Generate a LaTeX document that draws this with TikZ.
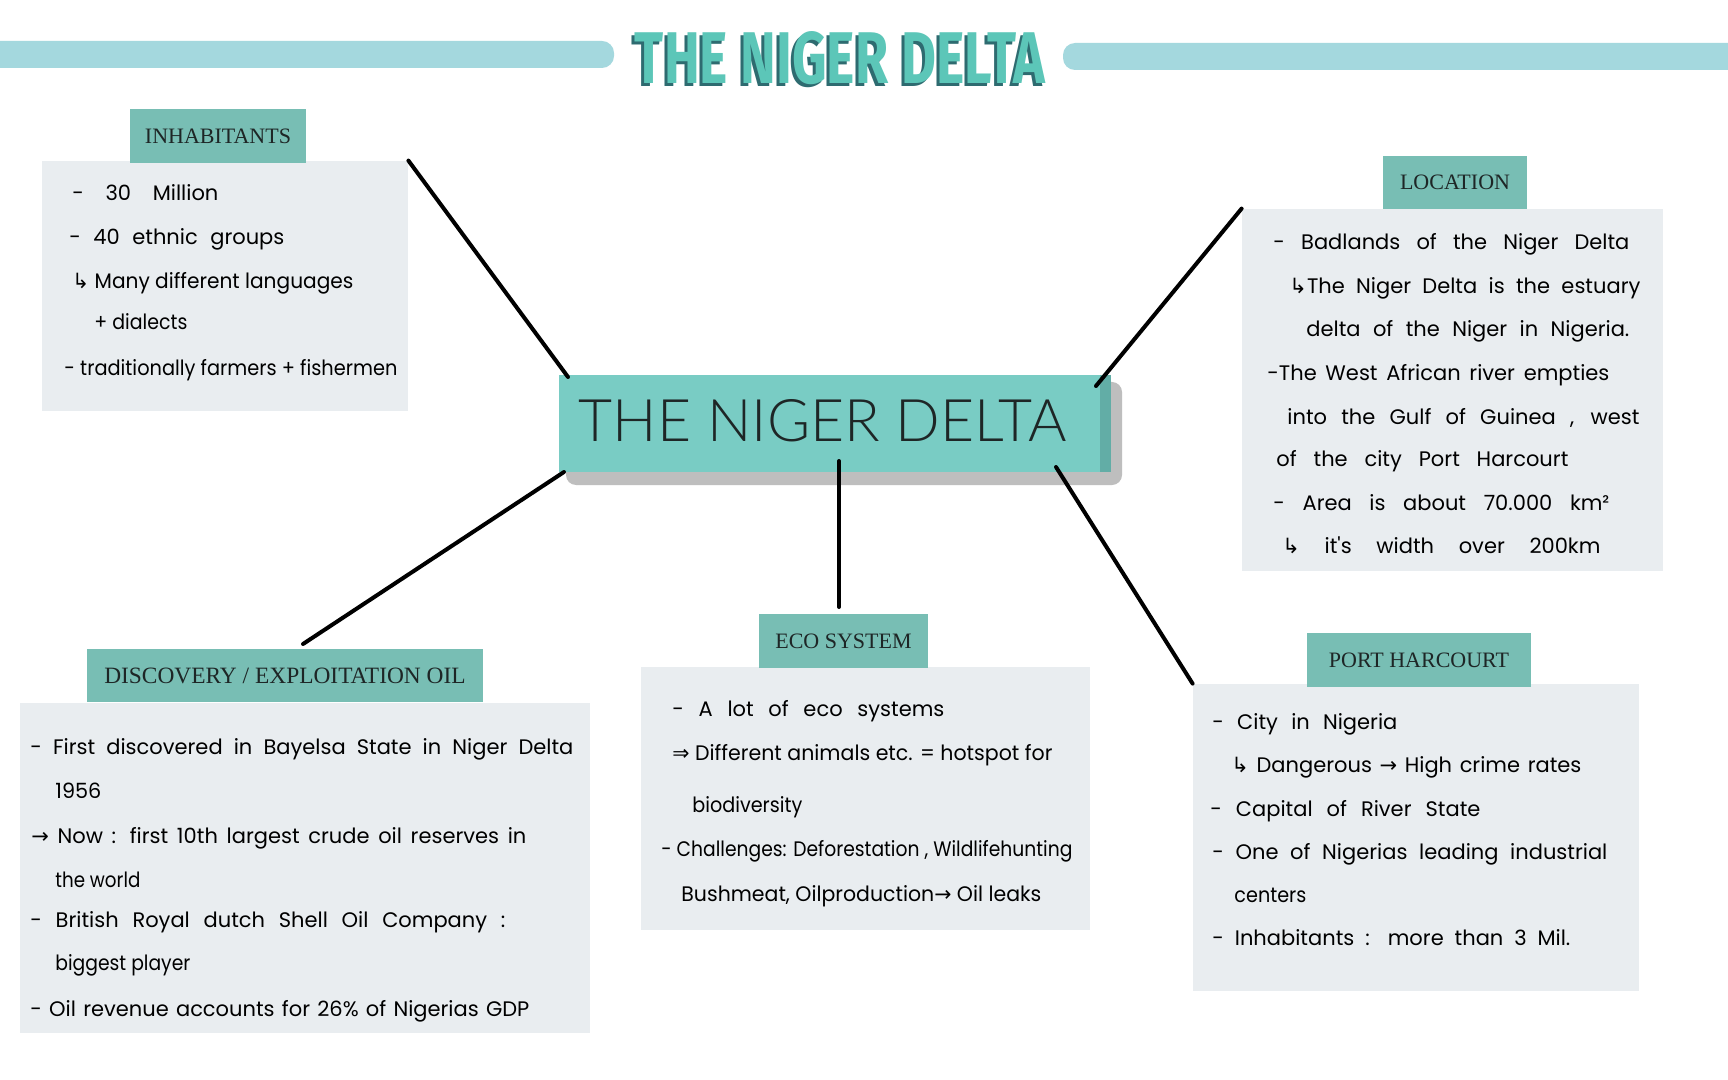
\documentclass[tikz,border=0pt]{standalone}
\usepackage{fontspec}
\usepackage{graphicx}
\setmainfont{Liberation Serif}
\newfontfamily\handfont{Poppins}
\newfontfamily\symfont{DejaVu Sans}
\newfontfamily\titlefont{Fira Sans}
\newfontfamily\centerfont{Lato Light}
\definecolor{barblue}{HTML}{A4D8DE}
\definecolor{titleteal}{HTML}{5CC6B8}
\definecolor{titledark}{HTML}{2E6B70}
\definecolor{headteal}{HTML}{78BEB4}
\definecolor{bodygray}{HTML}{E9EDF0}
\definecolor{centralteal}{HTML}{79CCC4}
\definecolor{centraledge}{HTML}{62ADA6}
\definecolor{shadowgray}{HTML}{BEBEBE}
\definecolor{inkdark}{HTML}{1E2626}
\newsavebox\fitbox
\newdimen\fitw
\newcommand\fitline[2]{\fitw=#1pt\divide\fitw by 2\relax
  \sbox\fitbox{#2}%
  \ifdim\wd\fitbox<\fitw\relax\makebox[\fitw][s]{#2}%
  \else\edef\fitscale{\fpeval{(\the\fitw)/(\the\wd\fitbox)}}\scalebox{\fitscale}[1]{\usebox\fitbox}\fi}
\newcommand\hookmark{{\symfont ↳}}
\newcommand\rarr{{\symfont →}}
\newcommand\dblarr{{\symfont ⇒}}
\begin{document}
\begin{tikzpicture}[x=0.5pt,y=-0.5pt,
  bar/.style={fill=barblue,draw=none},
  headbox/.style={fill=headteal,draw=none,inner sep=0,text=inkdark,font=\fontsize{11}{13}\selectfont},
  bodybox/.style={fill=bodygray,draw=none,inner sep=0},
  txt/.style={anchor=base west,inner sep=0,text=black,font=\handfont\fontsize{10.5}{12}\selectfont},
  link/.style={draw=black,line width=2pt,line cap=round}]
\useasboundingbox[fill=white] (0,0) rectangle (1728,1080);
% top bars
\fill[bar,rounded corners=6pt] (-20,41) rectangle (614,68);
\fill[bar,rounded corners=6pt] (1063,43) rectangle (1748,70);
% title
\node[anchor=base,inner sep=0,text=titledark] (titleshadow) at (837,87) {\titlefont\bfseries\resizebox{205pt}{26pt}{THE NIGER DELTA}};
\node[anchor=base,inner sep=0,text=titleteal] (title) at (840,84) {\titlefont\bfseries\resizebox{205pt}{26pt}{THE NIGER DELTA}};
% bodies
\node[bodybox,minimum width=183pt,minimum height=125pt] (IB) at (225,286) {};
\node[bodybox,minimum width=210.5pt,minimum height=181pt] (LB) at (1452.5,390) {};
\node[bodybox,minimum width=285pt,minimum height=165pt] (DB) at (305,868) {};
\node[bodybox,minimum width=224.5pt,minimum height=131.5pt] (EB) at (865.5,798.5) {};
\node[bodybox,minimum width=223pt,minimum height=153.5pt] (PB) at (1416,837.5) {};
% headers
\node[headbox,minimum width=88pt,minimum height=27pt] (IH) at (218,136) {INHABITANTS};
\node[headbox,minimum width=72pt,minimum height=26.5pt] (LH) at (1455,182.5) {LOCATION};
\node[headbox,minimum width=198pt,minimum height=26.5pt,font=\fontsize{11.7}{13}\selectfont] (DH) at (285,675.5) {DISCOVERY / EXPLOITATION OIL};
\node[headbox,minimum width=84.5pt,minimum height=27pt] (EH) at (843.5,641) {ECO SYSTEM};
\node[headbox,minimum width=112pt,minimum height=27pt] (PH) at (1419,660) {PORT HARCOURT};
% central
\fill[shadowgray,rounded corners=5pt] (566,382) rectangle (1122,485);
\node[fill=centralteal,draw=none,inner sep=0,minimum width=276pt,minimum height=48.5pt] (CB) at (835,423.5) {};
\fill[centraledge] (1100,375) rectangle (1111,472);
\node[anchor=base,inner sep=0,text=inkdark] (CT) at (823,441) {\centerfont\resizebox{244pt}{21pt}{THE NIGER DELTA}};
% connectors
\coordinate (c1) at (568,377);
\coordinate (c2) at (1096,386);
\coordinate (c3a) at (303,644);
\coordinate (c3) at (564,472);
\coordinate (c4) at (839,461);
\coordinate (c4a) at (839,607);
\coordinate (c5) at (1056,467);
\draw[link] (IB.north east) -- (c1);
\draw[link] (LB.north west) -- (c2);
\draw[link] (c3a) -- (c3);
\draw[link] (c4a) -- (c4);
\draw[link] (PB.north west) -- (c5);
% inhabitants text
\node[txt] (i1) at (72,201) {\fitline{146}{- 30 Million}};
\node[txt] (i2) at (69,245) {\fitline{215}{- 40 ethnic groups}};
\node[txt] (i3) at (72,289) {\fitline{281}{\hookmark\ Many different languages}};
\node[txt] (i4) at (94,330) {\fitline{93}{+ dialects}};
\node[txt] (i5) at (64,376) {\fitline{333}{- traditionally farmers + fishermen}};
% location text
\node[txt] (l1) at (1273,250) {\fitline{356}{- Badlands of the Niger Delta}};
\node[txt] (l2) at (1289,294) {\fitline{351}{\hookmark The Niger Delta is the estuary}};
\node[txt] (l3) at (1306,336) {\fitline{323}{delta of the Niger in Nigeria.}};
\node[txt] (l4) at (1267,380) {\fitline{342}{-The West African river empties}};
\node[txt] (l5) at (1287,424) {\fitline{352}{into the Gulf of Guinea , west}};
\node[txt] (l6) at (1276,466) {\fitline{292}{of the city Port Harcourt}};
\node[txt] (l7) at (1273,510) {\fitline{336}{- Area is about 70.000 km²}};
\node[txt] (l8) at (1282,553) {\fitline{318}{\hookmark\ it's width over 200km}};
% discovery text
\node[txt] (d1) at (30,754) {\fitline{543}{- First discovered in Bayelsa State in Niger Delta}};
\node[txt] (d2) at (55,798) {\fitline{46}{1956}};
\node[txt] (d3) at (31,843) {\fitline{495}{\rarr\ Now : first 10th largest crude oil reserves in}};
\node[txt] (d4) at (55,887) {\fitline{85}{the world}};
\node[txt] (d5) at (30,927) {\fitline{475}{- British Royal dutch Shell Oil Company :}};
\node[txt] (d6) at (55,970) {\fitline{135}{biggest player}};
\node[txt] (d7) at (30,1016) {\fitline{499}{- Oil revenue accounts for 26\% of Nigerias GDP}};
% eco text
\node[txt] (e1) at (672,716) {\fitline{272}{- A lot of eco systems}};
\node[txt] (e2) at (672,760) {\fitline{380}{\dblarr\ Different animals etc. = hotspot for}};
\node[txt] (e3) at (692,812) {\fitline{110}{biodiversity}};
\node[txt] (e4) at (661,856) {\fitline{411}{- Challenges: Deforestation , Wildlifehunting}};
\node[txt] (e5) at (681,901) {\fitline{360}{Bushmeat, Oilproduction\rarr\ Oil leaks}};
% port harcourt text
\node[txt] (p1) at (1212,729) {\fitline{185}{- City in Nigeria}};
\node[txt] (p2) at (1231,772) {\fitline{350}{\hookmark\ Dangerous \rarr\ High crime rates}};
\node[txt] (p3) at (1210,816) {\fitline{270}{- Capital of River State}};
\node[txt] (p4) at (1212,859) {\fitline{395}{- One of Nigerias leading industrial}};
\node[txt] (p5) at (1234,902) {\fitline{72}{centers}};
\node[txt] (p6) at (1212,945) {\fitline{358}{- Inhabitants : more than 3 Mil.}};
\end{tikzpicture}
\end{document}
